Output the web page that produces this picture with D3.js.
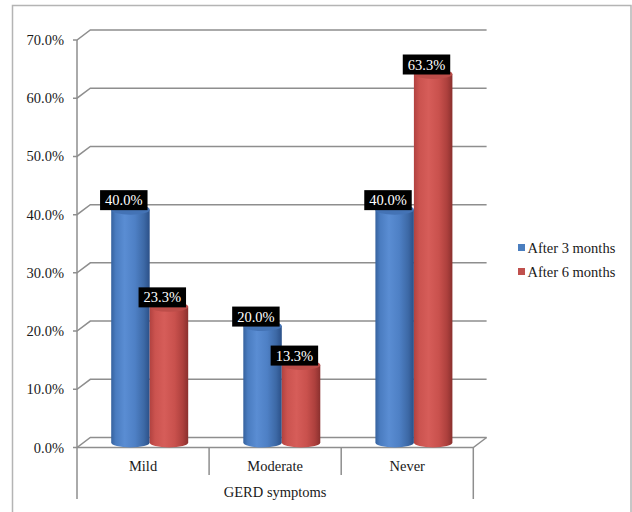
<!DOCTYPE html>
<html>
<head>
<meta charset="utf-8">
<script src="https://cdn.jsdelivr.net/npm/d3@7/dist/d3.min.js"></script>
<style>
  html, body { margin: 0; padding: 0; background: #fff; }
  svg { display: block; font-family: "Liberation Serif", "Times New Roman", serif; }
</style>
</head>
<body>
<svg id="chart" width="632" height="512"></svg>
<script>
// Share of patients by GERD symptom level
const categories = ["Mild", "Moderate", "Never"];
const seriesNames = ["After 3 months", "After 6 months"];
const after3 = [0.400, 0.200, 0.400];
const after6 = [0.233, 0.133, 0.633];
const yTicks = [0, 0.1, 0.2, 0.3, 0.4, 0.5, 0.6, 0.7];
const axisTitle = "GERD symptoms";

const series = [after3, after6];
const svg = d3.select("#chart");

// 3D frame: front plane of the plot and the depth offset to the back wall
const left = 77, right = 473.3;
const depthX = 13.3, depthY = 10;
const gridColor = "#8e8e8e";

const yFront = d3.scaleLinear().domain([0, 0.7]).range([447.5, 40]);
const x = d3.scaleBand().domain(categories).range([left, right]);
const sub = d3.scaleBand().domain(d3.range(series.length)).range([0, 77]);

const fmt = d3.format(".1%");

// outer frame
svg.append("rect")
  .attr("x", 12.5).attr("y", 5.5).attr("width", 618.5).attr("height", 520)
  .attr("fill", "none").attr("stroke", "#b4b4b4").attr("stroke-width", 1.5);

// gradients for the cylinders
const defs = svg.append("defs");
const palettes = [
  { body: [["0%", "#36629e"], ["12%", "#4a7cc0"], ["35%", "#5a8dd3"], ["62%", "#4e80c5"], ["85%", "#3d69a6"], ["100%", "#2b5088"]],
    top: "#4473b5", key: "#4a7ebf" },
  { body: [["0%", "#b14240"], ["14%", "#cb534f"], ["38%", "#d65d59"], ["65%", "#c9514d"], ["86%", "#ad403d"], ["100%", "#8a302e"]],
    top: "#bd4d49", key: "#c0504d" }
];
palettes.forEach((p, i) => {
  const g = defs.append("linearGradient").attr("id", "cyl" + i)
    .attr("x1", "0%").attr("x2", "100%").attr("y1", "0%").attr("y2", "0%");
  p.body.forEach(s => g.append("stop").attr("offset", s[0]).attr("stop-color", s[1]));
});

// back wall gridlines, connectors and left tick marks
const grid = svg.append("g").attr("stroke", gridColor).attr("stroke-width", 1.5).attr("fill", "none");
yTicks.forEach(t => {
  const yf = yFront(t), yb = yf - depthY;
  grid.append("path").attr("d", `M${left - 4},${yf} L${left},${yf} L${left + depthX},${yb} L${right + depthX},${yb}`);
});
// floor
grid.append("path").attr("d",
  `M${left},${yFront(0)} L${right},${yFront(0)} L${right + depthX},${yFront(0) - depthY}`);
// vertical axis line
grid.append("line").attr("x1", left).attr("x2", left).attr("y1", yFront(0.7)).attr("y2", 499);
// category frame lines below the floor
grid.append("line").attr("x1", right).attr("x2", right).attr("y1", yFront(0)).attr("y2", 499);
categories.slice(1).forEach(c => {
  grid.append("line").attr("x1", x(c)).attr("x2", x(c)).attr("y1", yFront(0)).attr("y2", 475);
});

// y tick labels
svg.append("g").selectAll("text").data(yTicks).join("text")
  .attr("x", 64).attr("y", d => yFront(d))
  .attr("text-anchor", "end").attr("dominant-baseline", "central")
  .attr("font-size", 14.5).attr("fill", "#1a1a1a")
  .text(d => fmt(d));

// category labels and axis title
svg.append("g").selectAll("text").data(categories).join("text")
  .attr("x", d => x(d) + x.bandwidth() / 2).attr("y", 466)
  .attr("text-anchor", "middle").attr("dominant-baseline", "central")
  .attr("font-size", 14.5).attr("fill", "#1a1a1a")
  .text(d => d);
svg.append("text")
  .attr("x", (left + right) / 2).attr("y", 492)
  .attr("text-anchor", "middle").attr("dominant-baseline", "central")
  .attr("font-size", 14.5).attr("fill", "#1a1a1a")
  .text(axisTitle);

// cylinders, placed halfway into the depth
const midX = depthX / 2, midY = depthY / 2;
const yMid = v => yFront(v) - midY;
const bw = sub.bandwidth();
const rx = bw / 2, ry = 5;
const bars = [];
categories.forEach((c, ci) => {
  const gx = x(c) + x.bandwidth() / 2 + midX - 77 / 2;
  series.forEach((s, si) => {
    bars.push({ x0: gx + sub(si), v: s[ci], si });
  });
});

const barG = svg.append("g");
bars.forEach(b => {
  const xl = b.x0, xr = b.x0 + bw;
  const yt = yMid(b.v), yb = yMid(0);
  barG.append("path")
    .attr("d", `M${xl},${yt} L${xl},${yb} A${rx},${ry} 0 0 0 ${xr},${yb} L${xr},${yt} Z`)
    .attr("fill", `url(#cyl${b.si})`);
  barG.append("ellipse")
    .attr("cx", xl + rx).attr("cy", yt).attr("rx", rx).attr("ry", ry)
    .attr("fill", palettes[b.si].top);
});

// value labels: black boxes with white text above each cylinder
const labG = svg.append("g");
bars.forEach(b => {
  const cx = b.x0 + rx - midX;
  const yBottom = yMid(b.v) + 0.5;
  const g = labG.append("g");
  const rect = g.append("rect").attr("fill", "#000");
  const t = g.append("text")
    .attr("x", cx).attr("y", yBottom - 10)
    .attr("text-anchor", "middle").attr("dominant-baseline", "central")
    .attr("font-size", 14.5).attr("fill", "#fff")
    .text(fmt(b.v));
  const w = t.node().getComputedTextLength() + 10;
  rect.attr("x", cx - w / 2).attr("y", yBottom - 20).attr("width", w).attr("height", 20);
});

// legend
const legend = svg.append("g");
seriesNames.forEach((n, i) => {
  const ly = 247.5 + i * 24;
  legend.append("rect").attr("x", 518).attr("y", ly - 3.5).attr("width", 7).attr("height", 7)
    .attr("fill", palettes[i].key);
  legend.append("text").attr("x", 527.5).attr("y", ly)
    .attr("dominant-baseline", "central").attr("font-size", 14.5).attr("fill", "#1a1a1a")
    .text(n);
});
</script>
</body>
</html>
